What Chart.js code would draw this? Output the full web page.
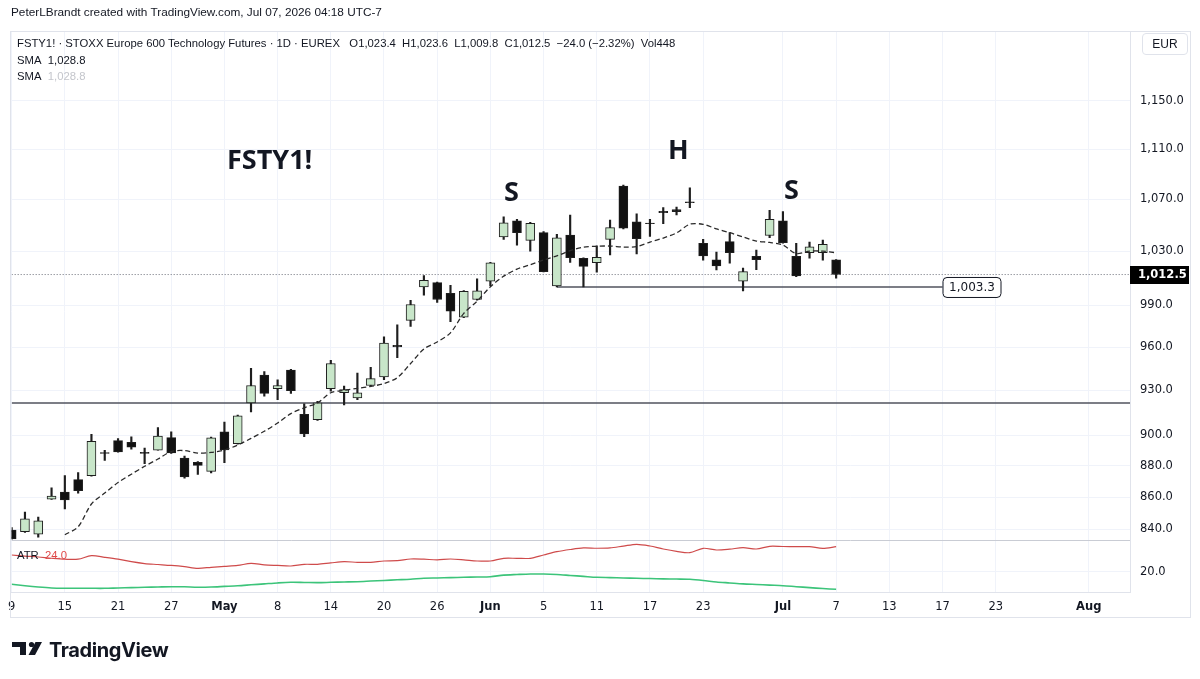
<!DOCTYPE html>
<html>
<head>
<meta charset="utf-8">
<script src="https://cdn.jsdelivr.net/npm/chart.js@4.4.1/dist/chart.umd.min.js"></script>
<style>
body { margin: 0; background: #fff; }
#wrap { position: relative; width: 1200px; height: 679px; overflow: hidden; font-family: "Liberation Sans", Arial, sans-serif; color: #131722; }
#myChart { position: absolute; left: 0; top: 0; }
#frame { position: absolute; left: 10px; top: 31px; width: 1181px; height: 587px; border: 1px solid #e0e3eb; box-sizing: border-box; pointer-events: none; }
.t { position: absolute; white-space: nowrap; font-size: 12px; line-height: 14px; }
.leg { font-size: 11.3px; }
.big { position: absolute; white-space: nowrap; font-family: "Open Sans", sans-serif; font-weight: 700; font-size: 27px; line-height: 30px; color: #131722; }
#eur { position: absolute; left: 1142px; top: 33px; width: 46px; height: 22px; border: 1px solid #e0e3eb; border-radius: 4px; box-sizing: border-box; font-size: 12px; line-height: 20px; text-align: center; }
#logo { position: absolute; left: 12px; top: 639px; }
</style>
</head>
<body>
<div id="wrap">
  <canvas id="myChart" width="1200" height="679"></canvas>
  <div id="frame"></div>

  <div class="t" style="left:11px; top:5px; font-size:11.8px;">PeterLBrandt created with TradingView.com, Jul 07, 2026 04:18 UTC-7</div>
  <div class="t leg" style="left:17px; top:36px;">FSTY1! · STOXX Europe 600 Technology Futures · 1D · EUREX&nbsp;&nbsp;&nbsp;O1,023.4&nbsp;&nbsp;H1,023.6&nbsp;&nbsp;L1,009.8&nbsp;&nbsp;C1,012.5&nbsp;&nbsp;−24.0 (−2.32%)&nbsp;&nbsp;Vol448</div>
  <div class="t leg" style="left:17px; top:53px;">SMA&nbsp;&nbsp;1,028.8</div>
  <div class="t leg" style="left:17px; top:69px;">SMA&nbsp;&nbsp;<span style="color:#c4c6cc">1,028.8</span></div>
  <div class="t leg" style="left:17px; top:548px;">ATR&nbsp;&nbsp;<span style="color:#e04848">24.0</span></div>
  <div id="eur">EUR</div>

  <div class="big" style="left:227px; top:144px;">FSTY1!</div>
  <div class="big" style="left:504px; top:176px;">S</div>
  <div class="big" style="left:668px; top:134px;">H</div>
  <div class="big" style="left:784px; top:174px;">S</div>

  <div id="logo">
    <svg width="160" height="22" viewBox="0 0 160 22" style="position:absolute; left:0; top:0;">
      <rect x="0" y="3" width="14" height="5" fill="#131722"/>
      <rect x="8" y="3" width="6" height="13" fill="#131722"/>
      <circle cx="19.5" cy="5.5" r="2.6" fill="#131722"/>
      <polygon points="23.5,3 30,3 23,16 16.5,16" fill="#131722"/>
    </svg>
    <div style="position:absolute; left:37px; top:-1px; font-family: Inter, sans-serif; font-weight:700; font-size:20px; letter-spacing:-0.4px; color:#131722;">TradingView</div>
  </div>
</div>

<script>
// Daily candles, Apr 9 – Jul 7 2026 (index = trading day)
const opens = [839.4,838.4,836.9,858.7,863.2,871.0,873.5,888.5,896.3,895.2,
  888.6,890.0,898.3,885.0,882.1,876.3,902.1,894.4,921.5,940.5,
  931.1,944.0,913.8,910.3,931.1,928.4,924.9,933.3,939.3,961.2,
  979.0,1003.3,1006.5,998.7,981.4,994.1,1007.5,1040.8,1053.1,1038.2,
  1044.1,1004.0,1042.3,1024.7,1021.3,1039.0,1080.4,1052.5,1051.5,1060.5,
  1062.0,1068.0,1035.9,1023.4,1037.2,1007.5,1026.1,1041.9,1053.1,1026.1,
  1028.8,1028.8,1023.4];
const highs = [841.0,850.5,847.4,865.8,873.7,875.5,900.5,890.0,897.7,898.8,
  891.4,904.9,902.1,886.3,882.7,898.7,908.6,913.3,945.2,942.9,
  937.3,944.5,920.9,922.6,950.7,933.0,941.8,945.8,967.3,975.9,
  993.6,1011.8,1007.0,1004.5,1000.6,1009.3,1021.7,1056.2,1054.4,1052.0,
  1045.0,1042.8,1057.7,1025.0,1034.1,1053.8,1081.2,1058.7,1054.4,1063.4,
  1063.9,1079.0,1039.0,1029.3,1044.1,1017.4,1030.9,1061.4,1060.3,1035.9,
  1036.9,1038.4,1023.6];
const lows = [833.8,838.0,835.1,858.5,852.5,862.5,873.3,883.4,888.8,890.8,
  881.3,890.0,888.0,871.9,874.4,875.4,881.9,894.0,915.4,926.0,
  923.7,928.0,898.9,909.8,929.5,920.2,923.7,932.8,937.3,952.5,
  974.6,997.3,992.0,978.0,981.0,993.6,1004.2,1039.0,1034.6,1030.0,
  1014.5,1003.3,1021.5,1003.3,1014.2,1027.1,1047.0,1028.0,1041.3,1051.0,
  1057.8,1063.4,1023.3,1015.9,1020.9,1000.4,1016.1,1040.2,1036.0,1011.0,
  1024.7,1023.3,1009.8];
const closes = [834.0,846.4,845.1,860.6,858.1,864.0,895.8,888.0,889.0,892.0,
  888.0,899.4,888.3,872.7,880.2,898.1,890.2,912.8,933.3,928.0,
  933.3,929.8,900.7,921.5,948.5,930.5,928.4,938.0,962.9,960.2,
  990.5,1008.2,994.1,985.6,1000.1,1000.4,1021.3,1051.6,1044.1,1051.3,
  1014.7,1040.2,1025.1,1018.6,1025.3,1047.9,1047.5,1039.5,1051.0,1059.5,
  1060.3,1067.3,1026.4,1019.0,1028.8,1014.7,1023.6,1054.4,1036.4,1011.5,
  1033.3,1035.1,1012.5];
const sma = [null,null,null,null,836.5,841.4,855.6,862.5,869.2,874.5,
  879.6,884.3,889.2,889.8,888.2,888.6,890.2,893.4,897.8,902.5,
  908.0,914.3,918.2,921.4,928.4,930.0,931.4,932.7,934.7,938.7,
  948.5,958.7,963.6,970.1,984.1,992.9,1003.4,1011.3,1016.5,1019.8,
  1023.4,1026.4,1030.4,1033.1,1033.7,1033.9,1033.1,1033.5,1036.9,1040.0,
  1043.9,1050.6,1050.5,1047.0,1044.1,1040.8,1037.7,1036.6,1034.6,1028.2,
  1030.0,1030.0,1028.8];
const atr = [22.67,22.5,22.35,22.15,22.0,22.0,22.56,22.3,22.0,21.6,
  21.3,21.15,21.0,20.8,20.54,20.7,20.85,21.0,21.34,21.1,
  21.0,20.91,21.18,21.18,21.4,21.6,21.5,21.5,21.71,21.76,
  22.03,22.0,21.9,22.03,21.9,21.71,21.71,22.14,22.14,22.14,
  22.67,23.2,23.55,23.8,23.75,23.8,24.1,24.38,24.11,23.63,
  23.26,23.04,23.74,23.47,23.6,23.84,23.63,24.06,24.03,24.02,
  24.0,23.74,24.0];
const atrSlow = [17.98,17.75,17.55,17.4,17.35,17.34,17.34,17.34,17.4,17.45,
  17.5,17.55,17.6,17.58,17.52,17.55,17.65,17.75,17.9,18.05,
  18.2,18.3,18.28,18.25,18.3,18.35,18.4,18.5,18.6,18.7,
  18.8,18.95,19.0,19.05,19.1,19.15,19.2,19.45,19.55,19.63,
  19.63,19.55,19.4,19.25,19.1,19.05,19.0,18.94,18.9,18.85,
  18.82,18.78,18.6,18.35,18.2,18.05,17.95,17.85,17.76,17.6,
  17.45,17.3,17.18];

// x axis: trading-day index of each date label
const tickDays = [0,4,8,12,16,20,24,28,32,36,40,44,48,52,58,62,66,70,74,81];
const tickLabels = ['9','15','21','27','May','8','14','20','26','Jun','5','11','17','23','Jul','7','13','17','23','Aug'];
const priceTicks = [840,860,880,900,930,960,990,1030,1070,1110,1150];
const atrTicks = [20];

const neckline = 921.5;
const supportLevel = 1003.3;
const supportFrom = 41;
const supportTo = 70;
const lastClose = 1012.5;
const lastDay = 84.1;

const fmt = v => Number(v).toLocaleString('en-US', {minimumFractionDigits: 1, maximumFractionDigits: 1});
const axisFont = {family: 'DejaVu Sans', size: 11.5};

const upColor = '#c8e6c9';
const downColor = '#111111';
const edge = '#1e1e1e';

const extras = {
    id: 'extras',
    afterDraw(chart){
        const {ctx, chartArea, scales} = chart;
        const x = scales.x, y = scales.y, y2 = scales.y2;
        ctx.save();
        // separator between price pane and ATR pane
        const sepY = Math.round(y2.top) + 0.5;
        ctx.strokeStyle = '#c9ccd4';
        ctx.lineWidth = 1;
        ctx.beginPath();
        ctx.moveTo(chartArea.left, sepY);
        ctx.lineTo(chartArea.right, sepY);
        ctx.stroke();

        // label at the end of the support line
        const bx = x.getPixelForValue(supportTo);
        const by = y.getPixelForValue(supportLevel);
        ctx.beginPath();
        ctx.roundRect(bx + 0.5, by - 9.5, 58, 20, 4);
        ctx.fillStyle = '#fff';
        ctx.fill();
        ctx.strokeStyle = '#131722';
        ctx.stroke();
        ctx.fillStyle = '#131722';
        ctx.font = '12px "DejaVu Sans"';
        ctx.textAlign = 'center';
        ctx.textBaseline = 'middle';
        ctx.fillText(fmt(supportLevel), bx + 29.5, by + 0.5);

        // last price tag on the axis
        const py = y.getPixelForValue(lastClose);
        ctx.fillStyle = '#000';
        ctx.fillRect(chartArea.right, Math.round(py) - 9, 59, 18);
        ctx.fillStyle = '#fff';
        ctx.font = 'bold 11.5px "DejaVu Sans"';
        ctx.textAlign = 'left';
        ctx.fillText(fmt(lastClose), chartArea.right + 8, Math.round(py) + 0.5);
        ctx.restore();
    }
};

document.addEventListener('DOMContentLoaded', function () {
    const ctx = document.getElementById('myChart').getContext('2d');
    const days = closes.map((c, i) => i);

    new Chart(ctx, {
        data: {
            datasets: [
                {
                    type: 'line',
                    label: 'SMA',
                    data: days.map(i => ({x: i, y: sma[i]})),
                    borderColor: '#2a2a2a',
                    borderWidth: 1.3,
                    borderDash: [5, 3],
                    pointRadius: 0,
                    tension: 0.3,
                    yAxisID: 'y',
                    order: 0
                },
                {
                    type: 'bar',
                    label: 'Bodies',
                    data: days.map(i => ({x: i, y: [opens[i], closes[i]]})),
                    backgroundColor: days.map(i => closes[i] >= opens[i] ? upColor : downColor),
                    borderColor: edge,
                    borderWidth: 1,
                    borderSkipped: false,
                    barThickness: 9,
                    grouped: false,
                    yAxisID: 'y',
                    order: 1
                },
                {
                    type: 'bar',
                    label: 'Wicks',
                    data: days.map(i => ({x: i, y: [lows[i], highs[i]]})),
                    backgroundColor: edge,
                    borderWidth: 0,
                    barThickness: 1.5,
                    grouped: false,
                    yAxisID: 'y',
                    order: 2
                },
                {
                    type: 'line',
                    label: 'Neckline',
                    data: [{x: 0, y: neckline}, {x: lastDay, y: neckline}],
                    borderColor: '#50535e',
                    borderWidth: 1.5,
                    pointRadius: 0,
                    yAxisID: 'y',
                    order: 3
                },
                {
                    type: 'line',
                    label: 'Support',
                    data: [{x: supportFrom, y: supportLevel}, {x: supportTo, y: supportLevel}],
                    borderColor: '#50535e',
                    borderWidth: 1.5,
                    pointRadius: 0,
                    yAxisID: 'y',
                    order: 3
                },
                {
                    type: 'line',
                    label: 'Last',
                    data: [{x: 0, y: lastClose}, {x: lastDay, y: lastClose}],
                    borderColor: '#6a6d78',
                    borderWidth: 1,
                    borderDash: [1, 2],
                    pointRadius: 0,
                    yAxisID: 'y',
                    order: 4
                },
                {
                    type: 'line',
                    label: 'ATR',
                    data: days.map(i => ({x: i, y: atr[i]})),
                    borderColor: '#cf4b4b',
                    borderWidth: 1.2,
                    pointRadius: 0,
                    tension: 0.3,
                    yAxisID: 'y2',
                    order: 0
                },
                {
                    type: 'line',
                    label: 'ATR slow',
                    data: days.map(i => ({x: i, y: atrSlow[i]})),
                    borderColor: '#3cc47a',
                    borderWidth: 1.6,
                    pointRadius: 0,
                    tension: 0.3,
                    yAxisID: 'y2',
                    order: 0
                }
            ]
        },
        options: {
            responsive: false,
            animation: false,
            layout: {padding: {left: 10, top: 31, right: 9, bottom: 61}},
            plugins: {legend: {display: false}, tooltip: {enabled: false}},
            scales: {
                x: {
                    type: 'linear',
                    offset: false,
                    min: 0,
                    max: lastDay,
                    afterBuildTicks: s => { s.ticks = tickDays.map(v => ({value: v})); },
                    afterFit: s => { s.height = 26; },
                    ticks: {
                        autoSkip: false,
                        maxRotation: 0,
                        padding: 8,
                        color: '#131722',
                        callback: (v, i) => tickLabels[i],
                        font: c => ({family: 'DejaVu Sans', size: 11.5, weight: /[A-Za-z]/.test(tickLabels[c.index]) ? 'bold' : 'normal'})
                    },
                    grid: {color: '#f0f3fa', drawTicks: false, offset: false},
                    border: {color: '#e0e3eb'}
                },
                y: {
                    type: 'logarithmic',
                    position: 'right',
                    stack: 'panes',
                    stackWeight: 509,
                    min: 833.3,
                    max: 1210.6,
                    afterBuildTicks: s => { s.ticks = priceTicks.map(v => ({value: v})); },
                    afterFit: s => { s.width = 61; },
                    ticks: {padding: 10, color: '#131722', font: axisFont, callback: v => fmt(v)},
                    grid: {color: '#f0f3fa', drawTicks: false},
                    border: {color: '#e0e3eb'}
                },
                y2: {
                    type: 'linear',
                    position: 'right',
                    stack: 'panes',
                    stackWeight: 52,
                    min: 16.75,
                    max: 25.07,
                    afterBuildTicks: s => { s.ticks = atrTicks.map(v => ({value: v})); },
                    afterFit: s => { s.width = 61; },
                    ticks: {padding: 10, color: '#131722', font: axisFont, callback: v => fmt(v)},
                    grid: {color: '#f0f3fa', drawTicks: false},
                    border: {color: '#e0e3eb'}
                }
            }
        },
        plugins: [extras]
    });
});
</script>
</body>
</html>
